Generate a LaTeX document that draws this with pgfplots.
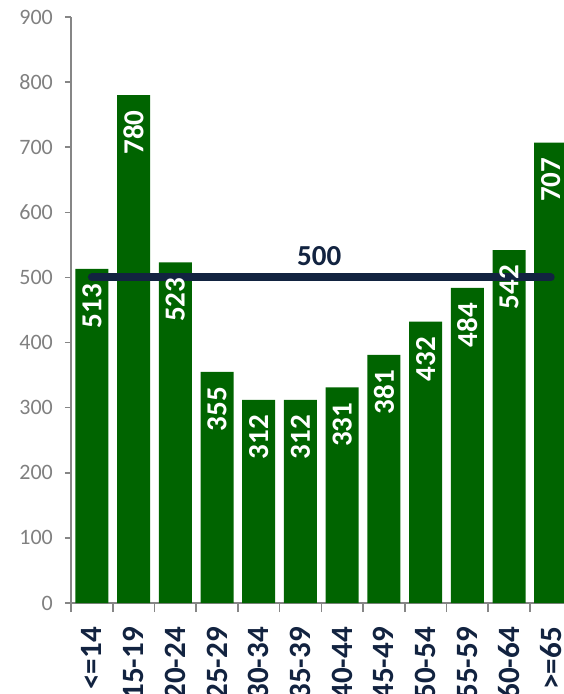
\documentclass[border=0pt]{standalone}
\usepackage{pgfplots}
\pgfplotsset{compat=1.18}
\usepackage{fontspec}
\setmainfont{Carlito}
\definecolor{bargreen}{RGB}{0,100,0}
\definecolor{navy}{RGB}{18,35,64}
\definecolor{axgray}{RGB}{134,134,134}
\definecolor{lblgray}{RGB}{128,128,128}
\begin{document}
\begin{tikzpicture}
\begin{axis}[
  name=ax,
  scale only axis,
  width=500.6pt, height=586pt,
  xmin=-0.5, xmax=11.5, ymin=0, ymax=900,
  axis x line*=bottom, axis y line*=left,
  axis line style={axgray, line width=1.6pt, -},
  xtick={0,...,11},
  xticklabels={<=14,15-19,20-24,25-29,30-34,35-39,40-44,45-49,50-54,55-59,60-64,>=65},
  minor xtick={-0.5,0.5,...,11.5},
  ytick={0,100,...,900},
  tick align=outside,
  major tick length=6pt,
  minor tick length=9pt,
  major x tick style={draw=none},
  minor x tick style={axgray, line width=1.6pt},
  ytick style={axgray, line width=1.6pt},
  /pgf/number format/assume math mode=true,
  yticklabel style={font=\fontsize{22}{26}\selectfont, text=lblgray, inner xsep=0pt, xshift=-12pt},
  xticklabel style={font=\fontsize{31}{35}\selectfont\bfseries, text=navy, rotate=90, anchor=east, inner xsep=0pt, xshift=-18pt},
  clip=false,
]
\addplot[ybar, bar shift=0pt, bar width=33pt, fill=bargreen, draw=none] coordinates {
(0,513) (1,780) (2,523) (3,355) (4,312) (5,312) (6,331) (7,381) (8,432) (9,484) (10,542) (11,707)};
\addplot[sharp plot, no marks, navy, line width=8pt, line cap=round] coordinates {(0,500) (11,500)};
\addplot[ybar, bar shift=0pt, bar width=33pt, fill=none, draw=none,
  nodes near coords,
  every node near coord/.append style={rotate=90, anchor=east, inner xsep=15pt, inner ysep=0pt, text=white, font=\fontsize{29}{33}\selectfont\bfseries, /pgf/number format/assume math mode=true}] coordinates {
(0,513) (1,780) (2,523) (3,355) (4,312) (5,312) (6,331) (7,381) (8,432) (9,484) (10,542) (11,707)};
\node[anchor=south, text=navy, font=\fontsize{29}{33}\selectfont\bfseries, inner sep=0pt] at (axis cs:5.45,500) [yshift=12pt] {500};
\end{axis}
\pgfresetboundingbox
\path[use as bounding box] ([shift={(-71pt,-91pt)}]ax.south west) rectangle ([shift={(492pt,603pt)}]ax.south west);
\end{tikzpicture}
\end{document}
